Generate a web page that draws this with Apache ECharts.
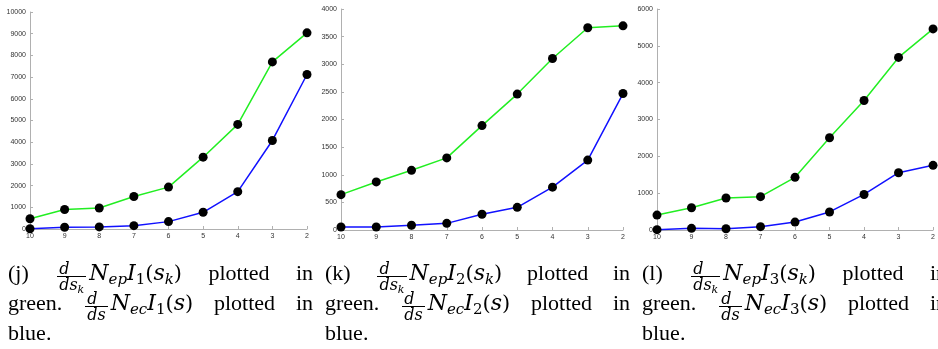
<!DOCTYPE html>
<html>
<head>
<meta charset="utf-8">
<script src="https://cdn.jsdelivr.net/npm/echarts@6/dist/echarts.min.js"></script>
<style>
    html, body { margin: 0; padding: 0; background: #fff; }
    #main { position: absolute; left: 0; top: 0; width: 938px; height: 349px; }
    .cap { position: absolute; width: 305px; font-family: "Liberation Serif", serif; font-size: 22px; color: #000; }
    .cap .ln { height: 30px; line-height: 30px; white-space: nowrap; }
    .cap .jf { text-align: justify; text-align-last: justify; white-space: normal; }
    .mt { font-family: "DejaVu Serif", serif; font-size: 21px; }
    .m { font-family: "DejaVu Serif", serif; font-style: italic; font-size: 22px; }
    .sub { font-family: "DejaVu Serif", serif; font-size: 15px; vertical-align: -4px; font-style: italic; }
    .subn { font-family: "DejaVu Serif", serif; font-size: 15px; vertical-align: -4px; font-style: normal; }
    .frac { display: inline-block; vertical-align: -10px; text-align: center; font-family: "DejaVu Serif", serif; font-size: 16px; line-height: 15px; font-style: italic; margin: 0 3px 0 2px; }
    .frac .nu { display: block; border-bottom: 1px solid #000; padding: 0 2px; }
    .frac .de { display: block; padding: 0 2px; }
    .frac .de .sub { font-size: 11px; vertical-align: -3px; }
</style>
</head>
<body>
<div id="main"></div>
<div id="caps"></div>
<script>
    var categories = ['10', '9', '8', '7', '6', '5', '4', '3', '2'];

    // (j)
    var green_j = [470, 900, 970, 1500, 1930, 3310, 4820, 7700, 9040];
    var blue_j = [10, 80, 95, 155, 340, 770, 1720, 4080, 7120];
    // (k)
    var green_k = [640, 870, 1080, 1305, 1890, 2460, 3105, 3660, 3695];
    var blue_k = [55, 55, 85, 120, 285, 410, 775, 1265, 2470];
    // (l)
    var green_l = [405, 605, 870, 905, 1430, 2505, 3515, 4685, 5460];
    var blue_l = [10, 45, 35, 90, 215, 490, 965, 1555, 1755];

    var y_max = [10000, 4000, 6000];
    var y_step = [1000, 500, 1000];

    var cap_labels = ['j', 'k', 'l'];
    var cap_index = ['1', '2', '3'];

    var chart = echarts.init(document.getElementById('main'));

    var grids = [
        {left: 30, top: 12, width: 277, height: 217},
        {left: 341, top: 9, width: 282, height: 221},
        {left: 657, top: 9, width: 281, height: 221}
    ];

    var axisStyle = {
        axisLine: {show: true, lineStyle: {color: '#b0b0b0', width: 1}},
        axisTick: {show: true, inside: true, length: 3, lineStyle: {color: '#b0b0b0'}},
        axisLabel: {color: '#333', fontSize: 7, fontFamily: 'Liberation Sans', margin: 4},
        splitLine: {show: false}
    };

    var xAxes = [], yAxes = [], series = [];
    var allData = [[green_j, blue_j], [green_k, blue_k], [green_l, blue_l]];
    var cols = ['#22ee22', '#1111ff'];
    for (var i = 0; i < 3; i++) {
        xAxes[i] = Object.assign({
            type: 'category', gridIndex: i, data: categories, boundaryGap: false
        }, JSON.parse(JSON.stringify(axisStyle)));
        yAxes[i] = Object.assign({
            type: 'value', gridIndex: i, min: 0, max: y_max[i], interval: y_step[i]
        }, JSON.parse(JSON.stringify(axisStyle)));
        yAxes[i].axisLabel.formatter = function(v) { return String(v); };
        for (var s = 0; s < 2; s++) {
            series.push({
                type: 'line', xAxisIndex: i, yAxisIndex: i, data: allData[i][s],
                symbol: 'circle', symbolSize: 9, showAllSymbol: true,
                lineStyle: {color: cols[s], width: 1.5},
                itemStyle: {color: '#000'},
                z: 2 + s, animation: false
            });
        }
    }

    chart.setOption({
        animation: false,
        grid: grids,
        xAxis: xAxes,
        yAxis: yAxes,
        series: series
    });

    // captions
    var capLeft = [8, 325, 642];
    var html = '';
    for (var c = 0; c < 3; c++) {
        var n = cap_index[c];
        html += '<div class="cap" style="left:' + capLeft[c] + 'px;top:258px">' +
            '<div class="ln jf">(' + cap_labels[c] + ') ' +
            '<span class="frac"><span class="nu">d</span><span class="de">ds<span class="sub">k</span></span></span>' +
            '<span class="m">N</span><span class="sub">ep</span><span class="m">I</span><span class="subn">' + n + '</span><span class="mt">(</span><span class="m">s</span><span class="sub">k</span><span class="mt">)</span> plotted in</div>' +
            '<div class="ln jf">green. ' +
            '<span class="frac"><span class="nu">d</span><span class="de">ds</span></span>' +
            '<span class="m">N</span><span class="sub">ec</span><span class="m">I</span><span class="subn">' + n + '</span><span class="mt">(</span><span class="m">s</span><span class="mt">)</span> plotted in</div>' +
            '<div class="ln">blue.</div>' +
            '</div>';
    }
    document.getElementById('caps').innerHTML = html;
</script>
</body>
</html>
